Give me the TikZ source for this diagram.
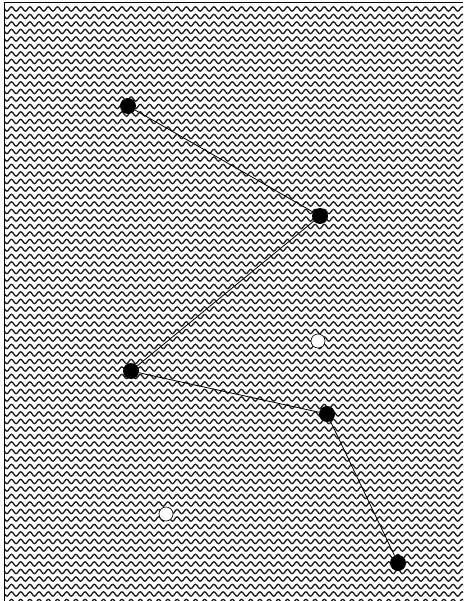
\documentclass[tikz,border=0pt]{standalone}
\usepackage{tikz}

\tikzset{
  blackdot/.style={circle,fill=black,inner sep=0pt,minimum size=16pt},
  whitedot/.style={circle,draw=black,fill=white,line width=0.6pt,inner sep=0pt,minimum size=14pt},
  wave/.style={line width=1.3pt,black!90},
  link/.style={line width=0.8pt,black}
}

\begin{document}
\begin{tikzpicture}[x=1pt,y=-1pt]
  \useasboundingbox (0,0) rectangle (463,601);
  \fill[white] (0,0) rectangle (463,601);
  % wavy background
  \begin{scope}
    \clip (4,3) rectangle (463,601);
    \foreach \row in {0,...,79}{
      \draw[wave] (0,{9+7.5*\row}) foreach \i in {0,...,51} {sin ++(2.3,-2.2) cos ++(2.3,2.2) sin ++(2.3,2.2) cos ++(2.3,-2.2)};
    }
  \end{scope}
  % frame
  \draw[line width=1pt] (4,601) -- (4,3) -- (463,3);
  % black points
  \node[blackdot] (p1) at (128,106) {};
  \node[blackdot] (p2) at (320,216) {};
  \node[blackdot] (p3) at (131,371) {};
  \node[blackdot] (p4) at (327,414) {};
  \node[blackdot] (p5) at (398,563) {};
  % white points
  \node[whitedot] (w1) at (318,341) {};
  \node[whitedot] (w2) at (166,514) {};
  % path
  \draw[link] (p1) -- (p2);
  \draw[link] (p2) -- (p3);
  \draw[link] (p3) -- (p4);
  \draw[link] (p4) -- (p5);
\end{tikzpicture}
\end{document}
